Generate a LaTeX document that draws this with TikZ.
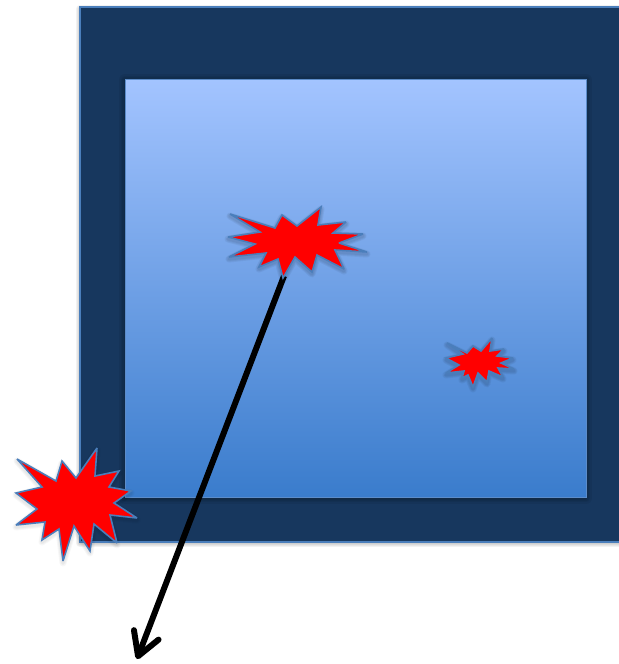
\documentclass[tikz,border=0pt]{standalone}
\usetikzlibrary{arrows.meta}
\definecolor{wallblue}{HTML}{17375E}
\definecolor{edgeblue}{HTML}{4A7EBB}
\definecolor{roomtop}{HTML}{A3C4FF}
\definecolor{roombottom}{HTML}{3A7CCC}
\tikzset{
  wall/.style={fill=wallblue, draw=edgeblue, line width=1.4pt},
  room/.style={top color=roomtop, bottom color=roombottom, draw=edgeblue!80!roomtop, line width=0.5pt},
  burst/.style={fill=red, draw=edgeblue, line width=0.9pt, line join=miter, miter limit=3},
  softedge/.style={draw=black, opacity=0.05, line join=round},
}
% Contornos de las explosiones
\newcommand{\burstleft}{(17,459) -- (56,481) -- (62,461) -- (76,478) -- (97,448) -- (95,476) -- (119,471) -- (109,487) -- (131,491) -- (114,503) -- (137,518) -- (110,515) -- (117,543) -- (94,524) -- (90,551) -- (74,526) -- (63,561) -- (59,529) -- (42,540) -- (45,522) -- (16,525) -- (37,509) -- (16,493) -- (42,487) -- cycle}
\newcommand{\burstmid}{(230,214) -- (275,228) -- (282,215) -- (297,226) -- (321,207) -- (318,225) -- (346,222) -- (333,233) -- (363,234) -- (339,243) -- (367,252) -- (335,250) -- (344,269) -- (317,255) -- (312,272) -- (295,257) -- (283,278) -- (278,259) -- (259,267) -- (266,253) -- (229,257) -- (255,244) -- (228,237) -- (260,232) -- cycle}
\newcommand{\burstright}{(447,343) -- (467,353) -- (473,346) -- (481,351) -- (492,338) -- (490,351) -- (504,349) -- (497,356) -- (513,358) -- (501,363) -- (514,369) -- (498,368) -- (503,377) -- (489,371) -- (487,382) -- (478,373) -- (473,387) -- (468,375) -- (462,378) -- (464,371) -- (446,373) -- (459,365) -- (446,358) -- (463,354) -- cycle}
\begin{document}
\begin{tikzpicture}[x=0.02cm, y=-0.02cm, >=stealth]
  \useasboundingbox (0,0) rectangle (619,664);
  \clip (0,0) rectangle (619,664);
  % Sombra del muro
  \foreach \s in {8,6,4,2}
    \draw[softedge, line width=\s*0.567pt] (80,9) rectangle (640,543);
  % Muro
  \draw[wall] (80,7) rectangle (640,542);
  % Sombra de la sala
  \foreach \s in {12,9,6,3}
    \draw[softedge, opacity=0.06, line width=\s*0.567pt] (125,80) rectangle (586,498);
  % Sala
  \draw[room] (125,79) rectangle (586,497);
  % Trayectoria
  \coordinate (start) at (284,276);
  \coordinate (tip) at (137,659);
  \draw[-{Straight Barb[length=13pt, width=15pt, round]}, line width=3.4pt] (start) -- (tip);
  % Sombras de las explosiones
  \foreach \s in {7,5,3}{
    \draw[softedge, opacity=0.05, line width=\s*0.567pt, yshift=-0.04cm] \burstmid;
    \draw[softedge, opacity=0.05, line width=\s*0.567pt, yshift=-0.04cm] \burstright;
    \draw[softedge, opacity=0.03, line width=\s*0.567pt, yshift=-0.04cm] \burstleft;
  }
  % Explosiones
  \draw[burst] \burstleft;
  \draw[burst] \burstmid;
  \draw[burst] \burstright;
\end{tikzpicture}
\end{document}
